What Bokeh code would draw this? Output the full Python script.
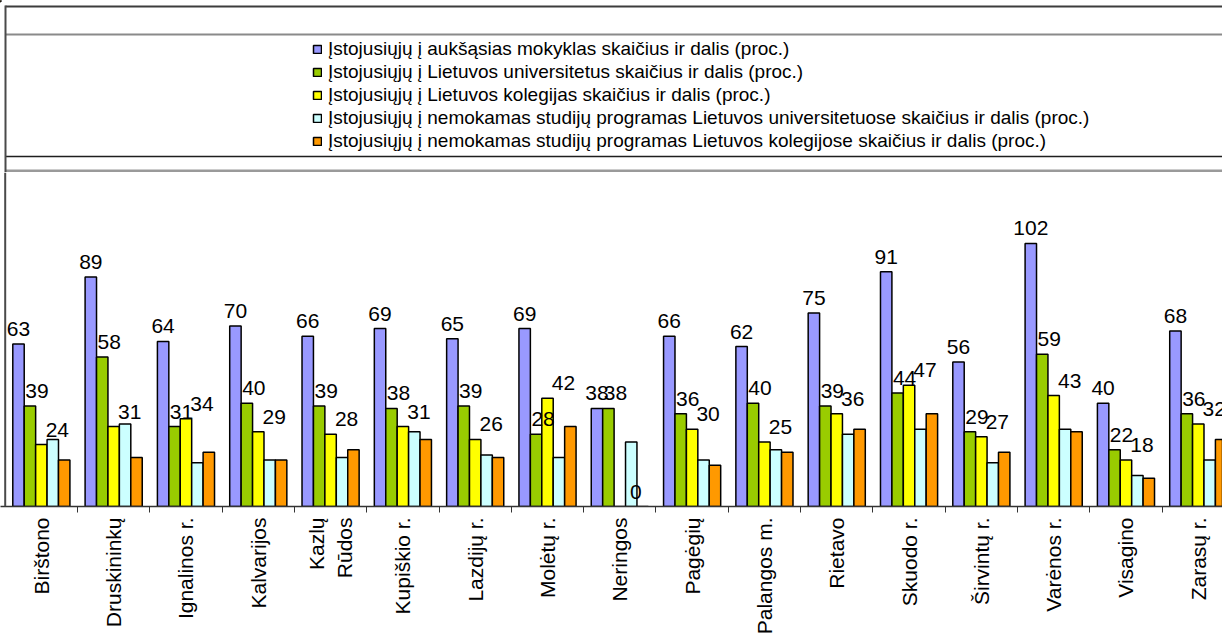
import math
from bokeh.plotting import figure
from bokeh.models import Range1d, FixedTicker, Legend, LegendItem, ColumnDataSource, Span
from bokeh.layouts import column
from bokeh.transform import dodge
from bokeh.embed import file_html
from bokeh.resources import INLINE
from bokeh.core.properties import value

# ---------------- data ----------------
categories = ["Birštono", "Druskininkų", "Ignalinos r.", "Kalvarijos", "Kazlų\nRūdos",
              "Kupiškio r.", "Lazdijų r.", "Molėtų r.", "Neringos", "Pagėgių",
              "Palangos m.", "Rietavo", "Skuodo r.", "Širvintų r.", "Varėnos r.",
              "Visagino", "Zarasų r."]

series_names = [
    "Įstojusiųjų į aukšąsias mokyklas skaičius ir dalis (proc.)",
    "Įstojusiųjų į Lietuvos universitetus skaičius ir dalis (proc.)",
    "Įstojusiųjų į Lietuvos kolegijas skaičius ir dalis (proc.)",
    "Įstojusiųjų į nemokamas studijų programas Lietuvos universitetuose skaičius ir dalis (proc.)",
    "Įstojusiųjų į nemokamas studijų programas Lietuvos kolegijose skaičius ir dalis (proc.)",
]

aukstosios = [63, 89, 64, 70, 66, 69, 65, 69, 38, 66, 62, 75, 91, 56, 102, 40, 68]
universitetai = [39, 58, 31, 40, 39, 38, 39, 28, 38, 36, 40, 39, 44, 29, 59, 22, 36]
kolegijos = [24, 31, 34, 29, 28, 31, 26, 42, 0, 30, 25, 36, 47, 27, 43, 18, 32]
nemok_univ = [26, 32, 17, 18, 19, 29, 20, 19, 25, 18, 22, 28, 30, 17, 30, 12, 18]
nemok_kol = [18, 19, 21, 18, 22, 26, 19, 31, 0, 16, 21, 30, 36, 21, 29, 11, 26]

colors = ["#9999FF", "#99CC00", "#FFFF00", "#CCFFFF", "#FF9900"]
FONT = "'Liberation Sans'"
W = 1222

# ---------------- header (title box + legend) ----------------
HH = 172
head = figure(width=W, height=HH, x_range=Range1d(0, W), y_range=Range1d(HH, 0),
              toolbar_location=None, output_backend="svg",
              x_axis_location=None, y_axis_location=None,
              min_border=0, outline_line_color=None)
head.grid.visible = False
head.segment(x0=[5], y0=[6], x1=[W], y1=[6], line_color="#3c3c3c", line_width=2)
head.segment(x0=[5], y0=[34], x1=[W], y1=[34], line_color="#8a8a8a", line_width=2)
head.segment(x0=[5], y0=[156], x1=[W], y1=[156], line_color="#1e1e1e", line_width=1.5)
head.segment(x0=[5], y0=[170.5], x1=[W], y1=[170.5], line_color="#9a9a9a", line_width=3)
head.segment(x0=[5], y0=[5], x1=[5], y1=[HH], line_color="#4a4a4a", line_width=2)

items = []
for name, col in zip(series_names, colors):
    r = head.vbar(x=[-1000], top=[1], width=1, fill_color=col, line_color="black", line_width=1.5)
    items.append(LegendItem(label=name, renderers=[r]))
legend = Legend(items=items, location=(312, 20), padding=0, margin=0, spacing=0,
                glyph_width=10, glyph_height=10, label_height=23, label_standoff=6,
                label_text_font=FONT, label_text_font_size="19px", label_text_color="black",
                border_line_color=None, background_fill_alpha=0)
head.add_layout(legend)

# ---------------- main chart ----------------
N = len(categories)
xs = list(range(N))
src = ColumnDataSource(dict(
    x=xs, s1=aukstosios, s2=universitetai, s3=kolegijos, s4=nemok_univ, s5=nemok_kol,
    t1=[str(v) for v in aukstosios], t2=[str(v) for v in universitetai],
    t3=[str(v) for v in kolegijos],
))

p = figure(width=W, height=644 - HH, x_range=Range1d(-0.565, 16.335), y_range=Range1d(0, 129.5),
           toolbar_location=None, output_backend="svg", min_border=0, min_border_bottom=138,
           outline_line_color=None, y_axis_location=None)
p.grid.visible = False
p.add_layout(Span(location=-0.5, dimension="height", line_color="#4a4a4a", line_width=2))

bw = 0.158
for k, (key, col) in enumerate(zip(["s1", "s2", "s3", "s4", "s5"], colors)):
    p.vbar(x=dodge("x", (k - 2) * bw, range=p.x_range), top=key, width=bw, source=src,
           fill_color=col, line_color="black", line_width=1.5)

label_dx = [0, 7, 16]
for k, key in enumerate(["t1", "t2", "t3"]):
    p.text(x=dodge("x", (k - 2) * bw, range=p.x_range), y="s%d" % (k + 1), text=key, source=src,
           text_font=value(FONT), text_font_size="21px", text_align="center",
           text_baseline="alphabetic", x_offset=label_dx[k], y_offset=-15, text_color="black")

xa = p.xaxis[0]
xa.ticker = FixedTicker(ticks=xs, minor_ticks=[i + 0.5 for i in range(N)])
xa.major_label_overrides = {i: c for i, c in enumerate(categories)}
xa.major_label_orientation = math.pi / 2
xa.major_tick_line_color = None
xa.major_tick_out = 0
xa.major_tick_in = 0
xa.minor_tick_out = 6
xa.minor_tick_in = 0
xa.minor_tick_line_color = "#333333"
xa.major_label_standoff = 5
xa.major_label_text_font = FONT
xa.major_label_text_font_size = "21px"
xa.major_label_text_color = "black"
xa.axis_line_color = "#333333"
xa.axis_line_width = 1.5

layout = column(head, p, spacing=0)
open("out.html", "w").write(file_html(layout, INLINE))
